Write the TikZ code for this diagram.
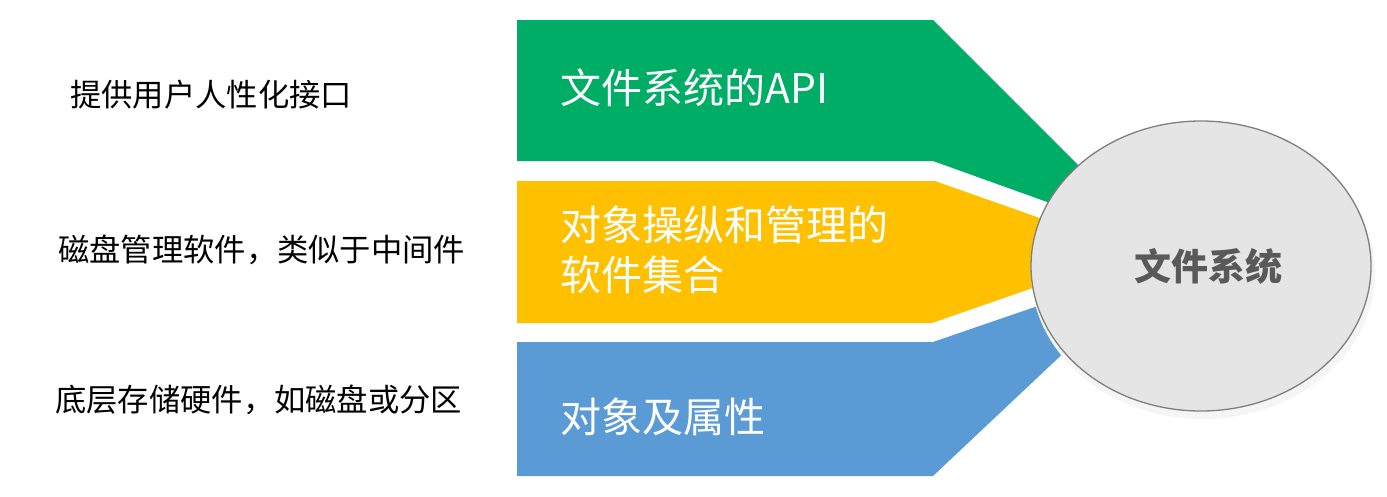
\documentclass[tikz,border=0pt]{standalone}
\usepackage{fontspec}
\setmainfont{Noto Sans CJK SC}
\usetikzlibrary{shapes.geometric}
\definecolor{cgreen}{HTML}{00AD66}
\definecolor{cyellow}{HTML}{FFC000}
\definecolor{cblue}{HTML}{5B9BD5}
\definecolor{cfill}{HTML}{E5E5E5}
\definecolor{cborder}{HTML}{7F7F7F}
\definecolor{ctext}{HTML}{595959}
\tikzset{
  bandtext/.style={anchor=west, text=white, align=left, inner sep=0pt, font=\fontsize{41}{50}\selectfont},
  sidetext/.style={anchor=west, text=black, inner sep=0pt, font=\fontsize{31.3}{36}\selectfont},
  core/.style={ellipse, fill=cfill, draw=cborder, line width=1.3pt, minimum width=340pt, minimum height=290pt, inner sep=0pt, text=ctext, font=\bfseries\fontsize{37}{40}\selectfont}
}
\begin{document}
\begin{tikzpicture}[x=1pt,y=-1pt]
\useasboundingbox (0,0) rectangle (1387,496);
% bands
\fill[cgreen] (517,20) -- (933,20) -- (1153,240) -- (933,161) -- (517,161) -- cycle;
\fill[cyellow] (517,181) -- (935,181) -- (1136,252) -- (932,323) -- (517,323) -- cycle;
\fill[cblue] (517,342) -- (933,342) -- (1157,265) -- (933,476) -- (517,476) -- cycle;
% shadow and core ellipse
\fill[black!4] (1203,272) ellipse [x radius=172pt, y radius=147pt];
\node[core] (fs) at (1201,266) {\hspace*{14pt}文件系统};
% band texts
\node[bandtext] (api) at (560,88) {文件系统的API};
\node[bandtext] (mgr) at (560,250) {对象操纵和管理的\\软件集合};
\node[bandtext] (obj) at (560,417) {对象及属性};
% side texts
\node[sidetext] (s1) at (70,95) {提供用户人性化接口};
\node[sidetext] (s2) at (58,250) {磁盘管理软件，类似于中间件};
\node[sidetext] (s3) at (55,400) {底层存储硬件，如磁盘或分区};
\end{tikzpicture}
\end{document}
